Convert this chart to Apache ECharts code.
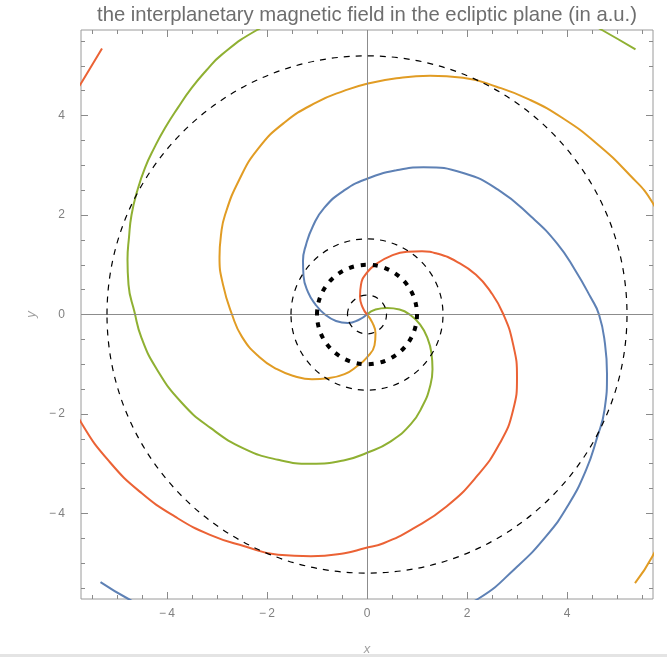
<!DOCTYPE html>
<html>
<head>
<meta charset="utf-8">
<title>Interplanetary magnetic field</title>
<script src="https://cdn.jsdelivr.net/npm/echarts@6/dist/echarts.min.js"></script>
<style>
  html, body { margin: 0; padding: 0; background: #fff; }
  #chart { width: 667px; height: 657px; }
</style>
</head>
<body>
<div id="chart"></div>
<script>
// Parker spiral field lines (x, y in a.u.), traced from the Sun outward.
const blueLine = [
  [0, 0], [-0.17, -0.11], [-0.38, -0.17], [-0.62, -0.13], [-0.84, 0.0], [-1.03, 0.2],
  [-1.18, 0.45], [-1.27, 0.78], [-1.28, 1.08], [-1.22, 1.4], [-1.08, 1.78], [-0.86, 2.14],
  [-0.45, 2.5], [0.0, 2.73], [0.59, 2.9], [1.13, 2.96], [1.94, 2.84], [2.62, 2.51],
  [3.28, 1.97], [3.8, 1.43], [4.17, 0.88], [4.47, 0.35], [4.64, 0.0], [4.76, -0.59],
  [4.8, -1.19], [4.75, -1.92], [4.6, -2.48], [4.38, -3.13], [4.02, -3.84], [3.58, -4.46],
  [2.98, -5.09], [2.25, -5.7], [1.6, -5.97], [0.56, -6.37], [-1.16, -6.6], [-2.97, -6.36],
  [-4.1, -6.05], [-4.77, -5.72], [-5.33, -5.38]
];
const orangeLine = [
  [0, 0], [0.11, -0.17], [0.17, -0.38], [0.15, -0.62], [0.0, -0.86], [-0.2, -1.04],
  [-0.45, -1.2], [-0.78, -1.28], [-1.1, -1.3], [-1.45, -1.24], [-1.8, -1.1], [-2.16, -0.85],
  [-2.5, -0.45], [-2.7, 0.0], [-2.88, 0.6], [-2.95, 1.15], [-2.92, 1.6], [-2.84, 2.0],
  [-2.56, 2.7], [-2.18, 3.33], [-1.65, 3.86], [-1.0, 4.27], [-0.45, 4.5], [0.0, 4.64],
  [0.59, 4.75], [1.26, 4.8], [1.92, 4.76], [2.59, 4.58], [3.25, 4.32], [3.91, 3.95],
  [4.58, 3.45], [5.24, 2.82], [5.71, 2.25], [5.97, 1.6], [6.37, 0.56], [6.6, -1.16],
  [6.36, -2.97], [6.05, -4.1], [5.71, -4.86], [5.36, -5.4]
];
const greenLine = [
  [0, 0], [0.17, 0.1], [0.4, 0.13], [0.65, 0.1], [0.88, -0.02], [1.06, -0.2],
  [1.2, -0.45], [1.29, -0.78], [1.31, -1.1], [1.26, -1.45], [1.12, -1.82], [0.88, -2.2],
  [0.46, -2.56], [0.0, -2.78], [-0.45, -2.93], [-1.12, -3.0], [-1.78, -2.92], [-2.45, -2.7],
  [-3.13, -2.28], [-3.71, -1.77], [-4.21, -1.09], [-4.51, -0.47], [-4.65, 0.05], [-4.77, 0.6],
  [-4.79, 1.1], [-4.76, 1.55], [-4.71, 2.0], [-4.6, 2.47], [-4.44, 2.95], [-4.25, 3.36],
  [-4.04, 3.75], [-3.78, 4.16], [-3.51, 4.55], [-3.22, 4.9], [-2.91, 5.22], [-2.2, 5.72],
  [-1.6, 5.97], [-0.56, 6.37], [1.16, 6.6], [2.97, 6.36], [4.1, 6.05], [4.7, 5.72],
  [5.37, 5.33]
];
const redLine = [
  [0, 0], [-0.09, 0.15], [-0.14, 0.36], [-0.12, 0.6], [-0.01, 0.83], [0.19, 1.02],
  [0.48, 1.18], [0.8, 1.26], [1.1, 1.27], [1.42, 1.22], [1.8, 1.06], [2.18, 0.8],
  [2.47, 0.46], [2.72, 0.02], [2.92, -0.59], [3.0, -1.26], [2.92, -1.93], [2.65, -2.6],
  [2.19, -3.26], [1.59, -3.86], [0.93, -4.3], [0.33, -4.6], [-0.05, -4.7], [-0.45, -4.8],
  [-1.12, -4.86], [-1.78, -4.83], [-2.45, -4.66], [-3.14, -4.43], [-3.83, -4.07], [-4.51, -3.59],
  [-5.15, -2.96], [-5.7, -2.2], [-5.97, -1.6], [-6.37, -0.56], [-6.6, 1.16], [-6.36, 2.97],
  [-6.05, 4.1], [-5.7, 4.68], [-5.3, 5.35]
];

// Planetary orbit radii (a.u.): Mercury, Mars, Jupiter dashed; Earth heavy dotted.
const dashedOrbits = [0.39, 1.52, 5.2];
const earthOrbit = [1.0];

// Axis extent and tick positions.
const axisLimit = 5.72;
const majorTicks = [-4, -2, 0, 2, 4];
const minorTicks = [-5.5, -5, -4.5, -3.5, -3, -2.5, -1.5, -1, -0.5,
                    0.5, 1, 1.5, 2.5, 3, 3.5, 4.5, 5, 5.5];

const titleText = 'the interplanetary magnetic field in the ecliptic plane (in a.u.)';

const FONT = 'Liberation Sans, Arial, sans-serif';
const tickColor = '#8a8a8a';
const labelColor = '#808080';

function axis(kind, position, ticks, len, withLabels) {
  const a = {
    type: 'value',
    position: position,
    min: -axisLimit,
    max: axisLimit,
    axisLine: { show: false, onZero: false },
    splitLine: { show: false },
    axisTick: {
      show: true, inside: true, length: len, customValues: ticks,
      lineStyle: { color: tickColor, width: 1 }
    },
    axisLabel: { show: false }
  };
  if (withLabels) {
    a.axisLabel = {
      show: true,
      customValues: ticks,
      color: labelColor,
      fontSize: 12,
      fontFamily: FONT,
      margin: kind === 'x' ? 9 : 16,
      formatter: v => String(v).replace('-', '\u2212\u2009')
    };
    a.name = kind;
    a.nameLocation = 'middle';
    a.nameTextStyle = { color: '#a0a0a0', fontSize: 13, fontStyle: 'italic', fontFamily: FONT };
    if (kind === 'x') {
      a.nameGap = 44;
    } else {
      a.nameGap = 40;
      a.nameRotate = 90;
    }
  }
  return a;
}

function orbitSeries(radii, width, dash, z) {
  return {
    type: 'custom',
    coordinateSystem: 'cartesian2d',
    xAxisIndex: 0, yAxisIndex: 0,
    silent: true,
    z: z,
    data: radii.map(r => [r, 0]),
    renderItem: function (params, api) {
      const r = api.value(0);
      const c = api.coord([0, 0]);
      const s = api.size([r, r]);
      return {
        type: 'ellipse',
        shape: { cx: c[0], cy: c[1], rx: s[0], ry: s[1] },
        style: { fill: null, stroke: '#000', lineWidth: width, lineDash: dash }
      };
    }
  };
}

function spiral(data, color, z) {
  return {
    type: 'line',
    xAxisIndex: 0, yAxisIndex: 0,
    data: data,
    showSymbol: false,
    smooth: 0.5,
    clip: true,
    silent: true,
    z: z,
    lineStyle: { color: color, width: 2 }
  };
}

const chart = echarts.init(document.getElementById('chart'), null, { renderer: 'canvas' });

// Coordinate axes drawn through the origin.
const originAxes = spiral([], '#000', 1);
originAxes.markLine = {
  silent: true,
  symbol: ['none', 'none'],
  label: { show: false },
  lineStyle: { color: '#8c8c8c', type: 'solid', width: 1 },
  data: [{ xAxis: 0 }, { yAxis: 0 }]
};

chart.setOption({
  animation: false,
  backgroundColor: '#fff',
  title: {
    text: titleText,
    left: 92,
    top: 0,
    textStyle: { fontSize: 20.3, fontWeight: 'normal', color: '#6e6e6e', fontFamily: FONT }
  },
  grid: {
    left: 81, right: 14, top: 30, bottom: 58,
    containLabel: false,
    outerBoundsMode: 'none',
    show: true, borderColor: '#9a9a9a', borderWidth: 1, backgroundColor: 'transparent'
  },
  xAxis: [
    axis('x', 'bottom', majorTicks, 7, true),
    axis('x', 'bottom', minorTicks, 4, false),
    axis('x', 'top', majorTicks, 7, false),
    axis('x', 'top', minorTicks, 4, false)
  ],
  yAxis: [
    axis('y', 'left', majorTicks, 7, true),
    axis('y', 'left', minorTicks, 4, false),
    axis('y', 'right', majorTicks, 7, false),
    axis('y', 'right', minorTicks, 4, false)
  ],
  graphic: [{
    type: 'rect',
    shape: { x: 0, y: 654, width: 667, height: 3 },
    style: { fill: '#e4e4e4' },
    silent: true
  }],
  series: [
    originAxes,
    spiral(blueLine, '#5e81b5', 2),
    spiral(orangeLine, '#e19c24', 3),
    spiral(greenLine, '#8fb032', 4),
    spiral(redLine, '#eb6235', 5),
    orbitSeries(dashedOrbits, 1.2, [6, 6], 6),
    orbitSeries(earthOrbit, 4, [5, 7], 7)
  ]
});
</script>
</body>
</html>
